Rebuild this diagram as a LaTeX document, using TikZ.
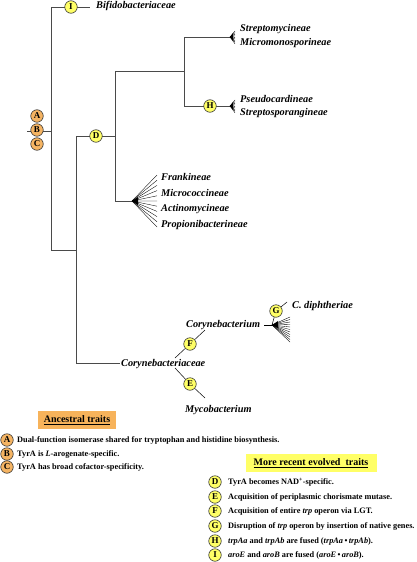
\documentclass[tikz,border=0pt]{standalone}
\usepackage{fontspec}
\setmainfont{Liberation Serif}
\definecolor{yel}{HTML}{FFFF66}
\definecolor{org}{HTML}{F5B463}
\definecolor{orgbox}{HTML}{F7B35B}
\definecolor{treegray}{HTML}{4A4A4A}
\begin{document}
\begin{tikzpicture}[x=1pt,y=-1pt,
  tree/.style={draw=treegray,line width=0.9pt},
  fanline/.style={draw=black,line width=0.35pt},
  ycirc/.style={circle,draw=black!80,line width=0.6pt,fill=yel,inner sep=0pt,minimum size=12.5pt,font=\fontsize{9}{9}\selectfont\bfseries},
  ocirc/.style={ycirc,fill=org},
  taxon/.style={anchor=west,inner sep=0pt,font=\fontsize{10.3}{10.3}\selectfont\bfseries\itshape},
  legtxt/.style={anchor=west,inner sep=0pt,font=\fontsize{8.3}{8.3}\selectfont\bfseries},
  boxtitle/.style={inner sep=0pt,font=\fontsize{10}{10}\selectfont\bfseries}]
\useasboundingbox (0,0) rectangle (417,562);

% tree coordinates
\coordinate (rs) at (27,131);
\coordinate (r1) at (51,131);
\coordinate (rt) at (51,7);
\coordinate (rb) at (51,250);
\coordinate (ie) at (90,7);
\coordinate (n2) at (76,250);
\coordinate (n2t) at (76,136);
\coordinate (n2b) at (76,363);
\coordinate (n3) at (115,136);
\coordinate (n3t) at (115,71);
\coordinate (n3b) at (115,201);
\coordinate (n4) at (184,71);
\coordinate (n4t) at (184,37);
\coordinate (n4b) at (184,106);
\coordinate (fs) at (230,37);
\coordinate (fp) at (230,106);
\coordinate (ff) at (132,201);
\coordinate (cb) at (120,363);

% tree lines
\draw[tree] (rs) -- (r1);
\draw[tree] (rt) -- (rb) -- (n2);
\draw[tree] (rt) -- (ie);
\draw[tree] (n2t) -- (n2b) -- (cb);
\draw[tree] (n2t) -- (n3);
\draw[tree] (n3t) -- (n3b) -- (ff);
\draw[tree] (n3t) -- (n4);
\draw[tree] (n4t) -- (n4b) -- (fp);
\draw[tree] (n4t) -- (fs);

% fans
\foreach \y in {31,32.6,...,44} \draw[fanline] (fs) -- (235,\y);
\foreach \y in {100,101.6,...,113} \draw[fanline] (fp) -- (235,\y);
\foreach \y in {175,180.2,...,228} \draw[fanline] (ff) -- (157,\y);
\fill (fs) -- (233,33) -- (233,41) -- cycle;
\fill (fp) -- (233,102) -- (233,110) -- cycle;
\fill (ff) -- (138,197) -- (138,205) -- cycle;

% circles on tree
\node[ocirc] (A) at (37,116) {A};
\node[ocirc] (B) at (37,130) {B};
\node[ocirc] (C) at (37,144) {C};
\node[ycirc] (I) at (71,7) {I};
\node[ycirc] (D) at (96,136) {D};
\node[ycirc] (H) at (210,106) {H};

% taxa
\node[taxon] (bif) at (96,6) {Bifidobacteriaceae};
\node[taxon] (stm) at (240,29) {Streptomycineae};
\node[taxon] (mic) at (240,43) {Micromonosporineae};
\node[taxon] (pse) at (240,99) {Pseudocardineae};
\node[taxon] (sts) at (240,113) {Streptosporangineae};
\node[taxon] (fra) at (161,177) {Frankineae};
\node[taxon] (mcc) at (161,193) {Micrococcineae};
\node[taxon] (act) at (161,209) {Actinomycineae};
\node[taxon] (pro) at (161,225) {Propionibacterineae};
\node[taxon] (cba) at (121,364) {Corynebacteriaceae};
\node[taxon] (cbm) at (186,325) {Corynebacterium};
\node[taxon] (myc) at (185,410) {Mycobacterium};
\node[taxon] (cdi) at (292,306) {C. diphtheriae};

% Corynebacteriaceae branches
\coordinate (fs1) at (175,358);
\coordinate (fe1) at (205,330);
\coordinate (es1) at (175,368);
\coordinate (ee1) at (205,398);
\node[ycirc] (F) at (190,344) {F};
\node[ycirc] (E) at (190,384) {E};
\draw[fanline,line width=0.5pt] (fs1) -- (F) -- (fe1);
\draw[fanline,line width=0.5pt] (es1) -- (E) -- (ee1);

% Corynebacterium fan
\coordinate (cs) at (264,325);
\coordinate (ca) at (272,325);
\coordinate (ce) at (287,302);
\draw[fanline,line width=0.6pt] (cs) -- (ca);
\foreach \y in {317,319.5,...,342} \draw[fanline] (ca) -- (290,\y);
\fill (ca) -- (278,321) -- (278,328) -- cycle;
\node[ycirc] (G) at (276,311) {G};
\draw[fanline,line width=0.5pt] (ca) -- (G) -- (ce);

% Legend: ancestral
\node[boxtitle,fill=orgbox,minimum width=78pt,minimum height=18pt] (anc) at (77,420) {\underline{Ancestral traits}};
\node[ocirc] (lA) at (7,440) {A};
\node[ocirc] (lB) at (7,454) {B};
\node[ocirc] (lC) at (7,467) {C};
\node[legtxt] (tA) at (17,440) {Dual-function isomerase shared for tryptophan and histidine biosynthesis.};
\node[legtxt] (tB) at (17,454) {TyrA is \textit{L}-arogenate-specific.};
\node[legtxt] (tC) at (17,467) {TyrA has broad cofactor-specificity.};

% Legend: recent
\node[boxtitle,fill=yel,minimum width=131pt,minimum height=18pt] (rec) at (311,463) {\underline{More recent evolved\ \ traits}};
\node[ycirc] (lD) at (215,482) {D};
\node[ycirc] (lE) at (215,497) {E};
\node[ycirc] (lF) at (215,511) {F};
\node[ycirc] (lG) at (215,526) {G};
\node[ycirc] (lH) at (215,541) {H};
\node[ycirc] (lI) at (215,555) {I};
\node[legtxt] (tD) at (228,482) {TyrA becomes NAD\textsuperscript{+}-specific.};
\node[legtxt] (tE) at (228,497) {Acquisition of periplasmic chorismate mutase.};
\node[legtxt] (tF) at (228,511) {Acquisition of entire \textit{trp} operon via LGT.};
\node[legtxt] (tG) at (228,526) {Disruption of \textit{trp} operon by insertion of native genes.};
\node[legtxt] (tH) at (228,541) {\textit{trpAa} and \textit{trpAb} are fused (\textit{trpAa}\,•\,\textit{trpAb}).};
\node[legtxt] (tI) at (228,555) {\textit{aroE} and \textit{aroB} are fused (\textit{aroE}\,•\,\textit{aroB}).};
\end{tikzpicture}
\end{document}
